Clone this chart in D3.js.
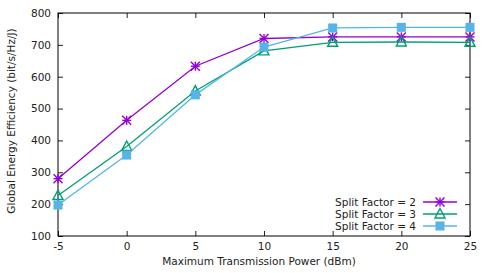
<!DOCTYPE html>
<html>
<head>
<meta charset="utf-8">
<script src="https://cdn.jsdelivr.net/npm/d3@7"></script>
<style>
  html, body { margin: 0; padding: 0; background: #fff; }
  svg { display: block; font-family: "DejaVu Sans", sans-serif; }
</style>
</head>
<body>
<div id="chart"></div>
<script>
// data
const powers = [-5, 0, 5, 10, 15, 20, 25];
const split2 = [280, 463, 633, 720, 725, 725, 725];
const split3 = [227, 381, 555, 681, 708, 709, 708];
const split4 = [197, 354, 543, 693, 753, 755, 755];
const xTicks = [-5, 0, 5, 10, 15, 20, 25];
const yTicks = [100, 200, 300, 400, 500, 600, 700, 800];
const seriesNames = ['Split Factor = 2', 'Split Factor = 3', 'Split Factor = 4'];

const width = 491, height = 273;
const margin = { top: 13, right: 21, bottom: 37, left: 58 };
const innerW = width - margin.left - margin.right;
const innerH = height - margin.top - margin.bottom;

const series = [
  { name: seriesNames[0], values: split2, color: '#9400d3', marker: 'star' },
  { name: seriesNames[1], values: split3, color: '#009e73', marker: 'triangle' },
  { name: seriesNames[2], values: split4, color: '#56b4e9', marker: 'square' }
];

const svg = d3.select('#chart').append('svg')
  .attr('width', width)
  .attr('height', height);

const g = svg.append('g')
  .attr('transform', `translate(${margin.left}, ${margin.top})`);

const x = d3.scaleLinear().domain([-5, 25]).range([0, innerW]);
const y = d3.scaleLinear().domain([100, 800]).range([innerH, 0]);

// plain hyphen for negatives, like gnuplot
const fmt = d => String(d);

// ticks pointing inward on all four sides (gnuplot style)
const tickLen = 5;
const tickColor = '#222';
g.append('g')
  .attr('transform', `translate(0, ${innerH})`)
  .call(d3.axisBottom(x).tickValues(xTicks).tickSize(-tickLen).tickPadding(7).tickFormat(fmt))
  .call(a => a.select('.domain').remove());
g.append('g')
  .call(d3.axisTop(x).tickValues(xTicks).tickSize(-tickLen).tickFormat(''))
  .call(a => a.select('.domain').remove());
g.append('g')
  .call(d3.axisLeft(y).tickValues(yTicks).tickSize(-tickLen).tickPadding(7).tickFormat(fmt))
  .call(a => a.select('.domain').remove());
g.append('g')
  .attr('transform', `translate(${innerW}, 0)`)
  .call(d3.axisRight(y).tickValues(yTicks).tickSize(-tickLen).tickFormat(''))
  .call(a => a.select('.domain').remove());

g.selectAll('.tick line').attr('stroke', tickColor);
g.selectAll('.tick text')
  .attr('font-size', '10.5px')
  .attr('fill', '#222')
  .attr('font-family', '"DejaVu Sans", sans-serif');

// border
g.append('rect')
  .attr('width', innerW)
  .attr('height', innerH)
  .attr('fill', 'none')
  .attr('stroke', '#000')
  .attr('stroke-width', 1);

// axis titles
svg.append('text')
  .attr('x', 259)
  .attr('y', 265)
  .attr('text-anchor', 'middle')
  .attr('font-size', '10.5px')
  .attr('fill', '#222')
  .text('Maximum Transmission Power (dBm)');

svg.append('text')
  .attr('transform', 'translate(15, 121) rotate(-90)')
  .attr('text-anchor', 'middle')
  .attr('font-size', '10.5px')
  .attr('fill', '#222')
  .text('Global Energy Efficiency (bit/s/Hz/J)');

// marker drawing helper
function drawMarker(sel, type, color, cx, cy) {
  const s = 4.5;
  if (type === 'star') {
    const p = sel.append('g').attr('stroke', color).attr('stroke-width', 1.4);
    p.append('line').attr('x1', cx - s).attr('x2', cx + s).attr('y1', cy).attr('y2', cy);
    p.append('line').attr('x1', cx).attr('x2', cx).attr('y1', cy - s).attr('y2', cy + s);
    p.append('line').attr('x1', cx - s).attr('x2', cx + s).attr('y1', cy - s).attr('y2', cy + s);
    p.append('line').attr('x1', cx - s).attr('x2', cx + s).attr('y1', cy + s).attr('y2', cy - s);
  } else if (type === 'triangle') {
    sel.append('path')
      .attr('d', `M${cx},${cy - s - 1}L${cx + s + 0.5},${cy + s - 0.5}L${cx - s - 0.5},${cy + s - 0.5}Z`)
      .attr('fill', 'none')
      .attr('stroke', color)
      .attr('stroke-width', 1.4);
  } else {
    sel.append('rect')
      .attr('x', cx - s).attr('y', cy - s)
      .attr('width', 2 * s).attr('height', 2 * s)
      .attr('fill', color);
  }
}

const line = d3.line()
  .x((d, i) => x(powers[i]))
  .y(d => y(d));

const plot = g.append('g');
series.forEach(s => {
  plot.append('path')
    .datum(s.values)
    .attr('d', line)
    .attr('fill', 'none')
    .attr('stroke', s.color)
    .attr('stroke-width', 1.3);
  const mg = plot.append('g');
  s.values.forEach((v, i) => drawMarker(mg, s.marker, s.color, x(powers[i]), y(v)));
});

// legend, bottom right inside the plot
const legend = svg.append('g');
const legendRight = 416, lineX1 = 423, lineX2 = 457;
series.forEach((s, i) => {
  const ly = 202 + i * 12;
  legend.append('text')
    .attr('x', legendRight)
    .attr('y', ly)
    .attr('dy', '0.35em')
    .attr('text-anchor', 'end')
    .attr('font-size', '10.5px')
    .attr('fill', '#222')
    .text(s.name);
  legend.append('line')
    .attr('x1', lineX1).attr('x2', lineX2)
    .attr('y1', ly).attr('y2', ly)
    .attr('stroke', s.color)
    .attr('stroke-width', 1.3);
  drawMarker(legend, s.marker, s.color, (lineX1 + lineX2) / 2, ly);
});
</script>
</body>
</html>
